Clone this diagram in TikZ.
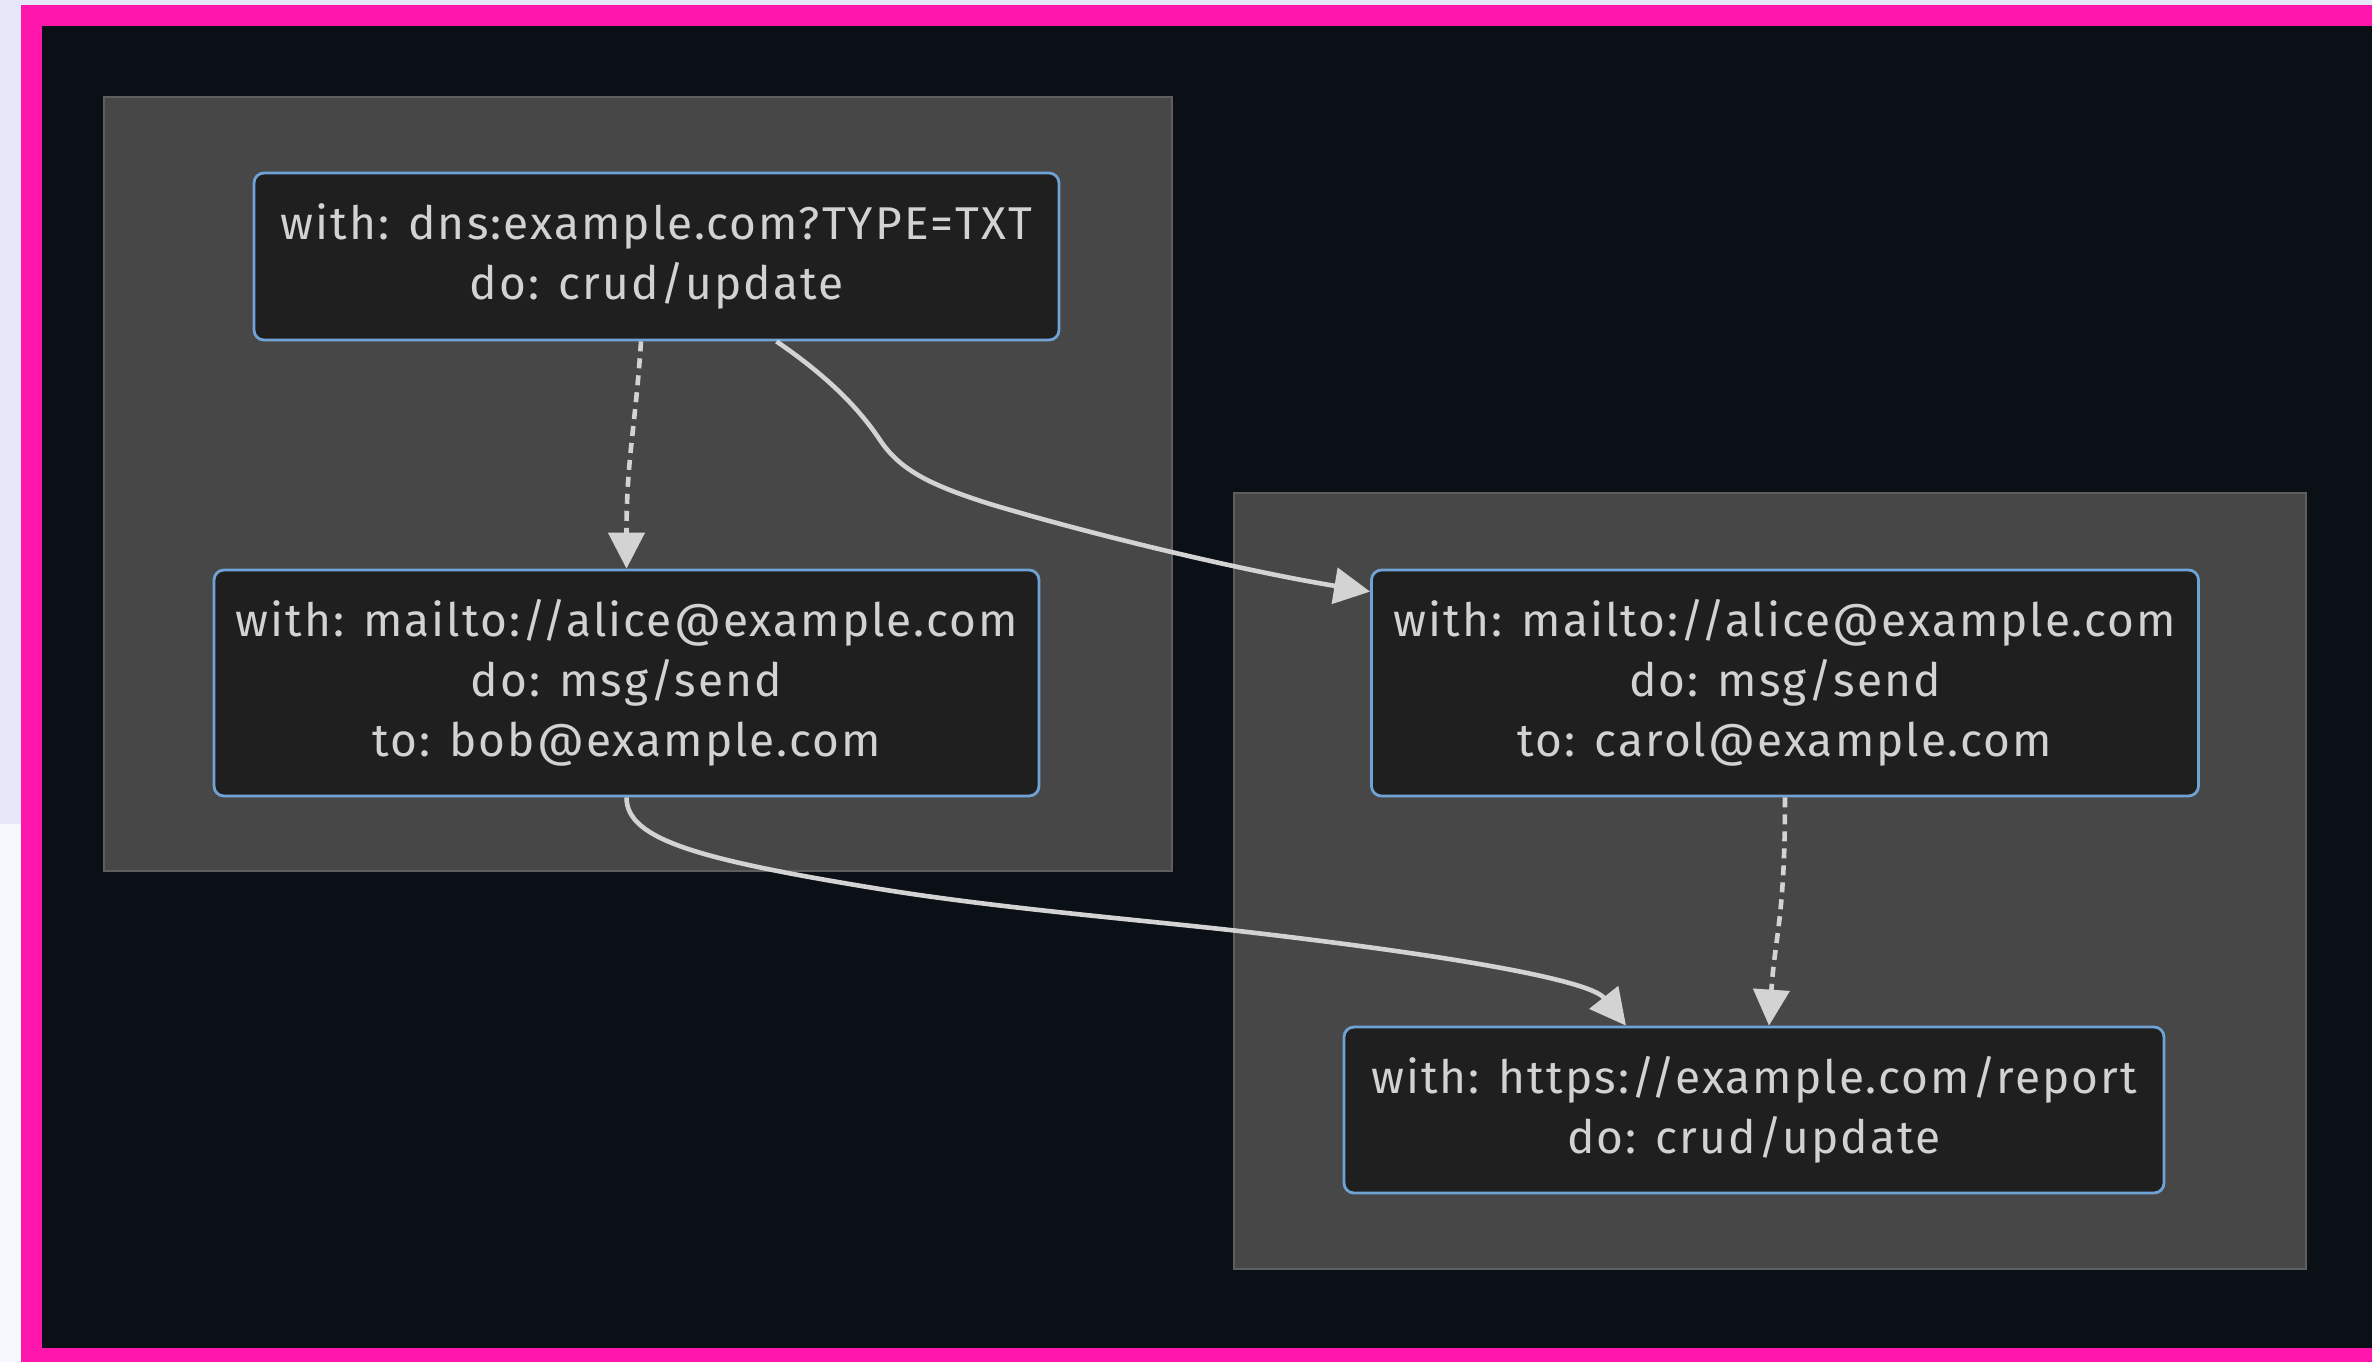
\documentclass[tikz,border=0pt]{standalone}
\usepackage{fontspec}
\setmainfont[LetterSpace=4.5]{Fira Sans}
\usetikzlibrary{arrows.meta,calc}
\definecolor{lav}{HTML}{E6E8FA}
\definecolor{paleblue}{HTML}{F6F8FD}
\definecolor{pinkf}{HTML}{FF16AC}
\definecolor{bgdark}{HTML}{0B0F16}
\definecolor{grpfill}{HTML}{474747}
\definecolor{grpline}{HTML}{5E5E5E}
\definecolor{nodefill}{HTML}{1F1F1F}
\definecolor{nodeline}{HTML}{6FA3D6}
\definecolor{txt}{HTML}{D2D2D2}
\definecolor{edgecol}{HTML}{D3D3D3}
\begin{document}
\begin{tikzpicture}[x=0.5pt,y=-0.5pt,
  box/.style={draw=nodeline, line width=1.4pt, fill=nodefill, rounded corners=5pt,
    text=txt, align=center, inner sep=0pt, font=\fontsize{23}{30}\selectfont},
  grp/.style={draw=grpline, fill=grpfill, line width=0.9pt},
  edge/.style={draw=edgecol, line width=2.3pt, -{Triangle[length=18pt,width=18pt]}},
  dotedge/.style={edge, dash pattern=on 5pt off 3.5pt}]
\useasboundingbox (0,0) rectangle (2372,1362);
\fill[lav] (0,0) rectangle (2372,1362);
\fill[paleblue] (0,824) rectangle (21,1362);
\fill[pinkf] (21,5) rectangle (2372,1362);
\fill[bgdark] (42,26) rectangle (2372,1348);
\draw[grp] (104,97) rectangle (1172,871);
\draw[grp] (1234,493) rectangle (2306,1269);
\node[box, minimum width=402.5pt, minimum height=83.5pt] (A) at (656.5,256.5)
  {with: dns:example.com?TYPE=TXT\\do: crud/update};
\node[box, minimum width=412.5pt, minimum height=113pt] (B) at (626.5,683)
  {with: mailto://alice@example.com\\do: msg/send\\to: bob@example.com};
\node[box, minimum width=413.5pt, minimum height=113pt] (C) at (1785,683)
  {with: mailto://alice@example.com\\do: msg/send\\to: carol@example.com};
\node[box, minimum width=410pt, minimum height=83pt] (D) at (1754,1110)
  {with: https://example.com/report\\do: crud/update};
\draw[dotedge] ($(A.south)+(-15.5,0)$) .. controls +(-6,90) and +(0,-110) .. (B.north);
\draw[edge] ($(A.south)+(120,0)$) .. controls (830,378) and (860,410) .. (880,440)
  .. controls (900,470) and (930,485) .. (990,504)
  .. controls (1100,537) and (1250,572) .. ($(C.north west)+(0,23)$);
\draw[edge] (B.south) .. controls (626.5,840) and (700,860) .. (886,890)
  .. controls (1000,908) and (1130,919) .. (1230,930)
  .. controls (1450,955) and (1590,980) .. ($(D.north)+(-128,0)$);
\draw[dotedge] (C.south) .. controls +(0,120) and +(6,-90) .. ($(D.north)+(15,0)$);
\end{tikzpicture}
\end{document}
